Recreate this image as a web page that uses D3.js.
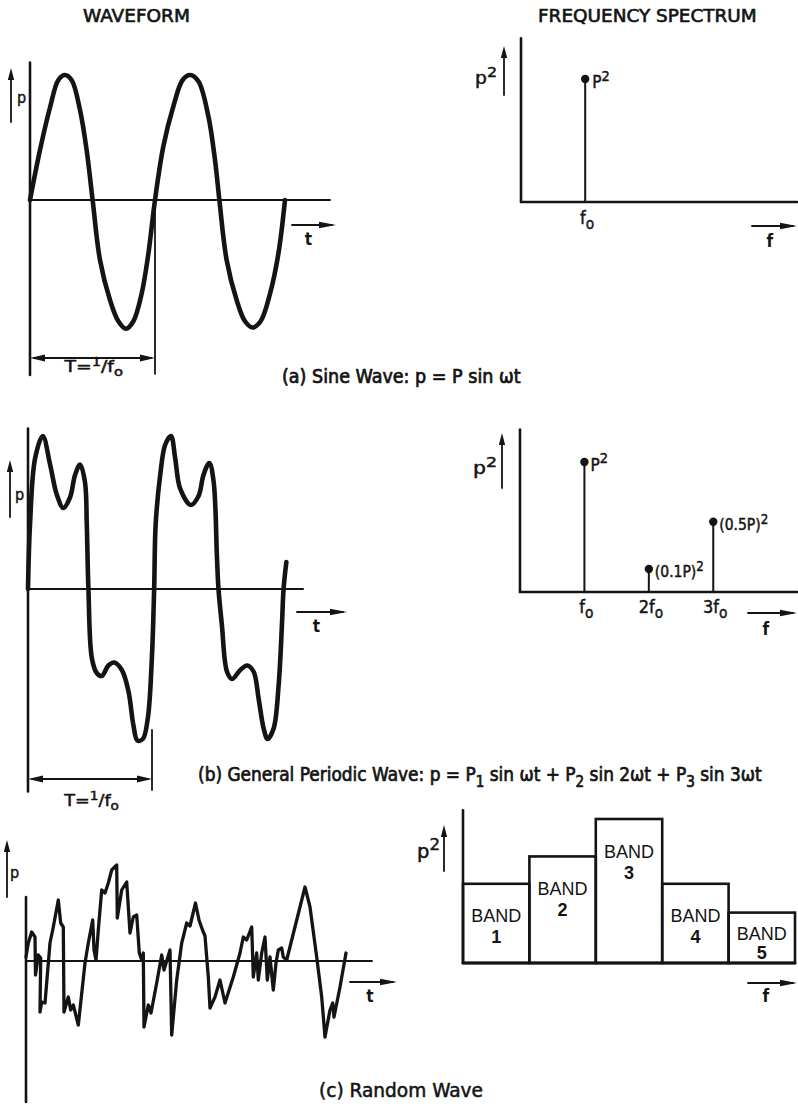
<!DOCTYPE html>
<html><head><meta charset="utf-8">
<script src="https://cdn.jsdelivr.net/npm/d3@7"></script>
<style>
html,body{margin:0;padding:0;background:#fff;}
svg{display:block;}
text{fill:#141414;white-space:pre;}
</style></head><body>
<svg id="c" width="798" height="1107"></svg>
<script>
// ---------------- DATA ----------------
// (a) sine wave: [t (periods), p (amplitude units)]
const sineWave = [[0,0],[0.08,0.40],[0.16,0.74],[0.227,0.96],[0.28,1.0],[0.333,0.96],[0.40,0.72],[0.453,0.40],[0.501,0],
  [0.56,-0.48],[0.64,-0.80],[0.707,-0.97],[0.768,-1.03],[0.827,-0.97],[0.893,-0.75],[0.947,-0.43],[1.0,0],
  [1.067,0.43],[1.147,0.75],[1.221,0.96],[1.28,1.0],[1.347,0.95],[1.427,0.67],[1.48,0.32],[1.515,0],
  [1.573,-0.48],[1.653,-0.80],[1.72,-0.97],[1.781,-1.02],[1.845,-0.97],[1.92,-0.75],[1.987,-0.43],[2.04,0]];
// (b) general periodic wave
const periodicWave = [[0,0],[0.016,0.43],[0.056,0.87],[0.117,1.02],[0.175,0.83],[0.228,0.63],[0.280,0.54],[0.333,0.61],
  [0.373,0.76],[0.413,0.83],[0.452,0.71],[0.466,0.43],[0.479,0.0],[0.506,-0.46],[0.545,-0.56],[0.585,-0.58],
  [0.637,-0.51],[0.683,-0.49],[0.744,-0.54],[0.796,-0.68],[0.836,-0.91],[0.867,-1.01],[0.910,-1.0],[0.950,-0.86],
  [0.982,-0.46],[1.0,0],[1.012,0.43],[1.048,0.76],[1.087,0.96],[1.133,1.02],[1.167,0.87],[1.206,0.67],[1.291,0.56],
  [1.352,0.62],[1.391,0.76],[1.437,0.84],[1.471,0.72],[1.498,0.21],[1.510,0.0],[1.537,-0.24],[1.577,-0.55],
  [1.617,-0.60],[1.683,-0.54],[1.736,-0.51],[1.788,-0.55],[1.828,-0.73],[1.868,-0.93],[1.899,-1.0],[1.947,-0.93],
  [1.987,-0.64],[2.013,-0.24],[2.026,0],[2.048,0.18]];
// (c) random wave: [t (ms), p]
const randomWave = [[0,0.04],[2.3,0.18],[5.7,0.29],[9,0.24],[9.5,-0.14],[12.3,0.06],[14.7,0.03],[14,-0.51],[15.7,-0.41],
  [19,-0.42],[24,0.18],[27.3,0.34],[32.3,0.61],[34.7,0.38],[37.3,0.34],[38,-0.51],[42.3,-0.36],[44.7,-0.49],[47.3,-0.44],
  [52.3,-0.64],[59,-0.02],[62.3,0.18],[66.7,0.41],[68,0.11],[70,0.01],[72.3,0.31],[75.7,0.71],[79,0.68],[82.3,0.78],
  [85.7,0.91],[90.7,0.96],[91.3,0.43],[95.7,0.71],[100.7,0.79],[104,0.28],[107.3,0.44],[110.7,0.46],[113.3,0.08],
  [115.7,0.01],[117.3,0.08],[118,-0.66],[122.3,-0.44],[125,-0.52],[130.7,-0.22],[135.7,0.06],[138,-0.09],[144,0.11],
  [145.7,-0.74],[150.7,-0.19],[155.7,0.18],[160.7,0.38],[164,0.35],[169.5,0.58],[173,0.41],[176.5,0.31],[179,0.25],
  [182.3,-0.16],[184,-0.47],[189,-0.36],[194,-0.19],[199,-0.42],[207.3,-0.16],[214,0.08],[217.3,0.24],[220.7,0.21],
  [225.7,0.34],[227.3,-0.16],[230.7,0.08],[232.3,-0.19],[235.7,0.08],[239,0.24],[241.3,-0.19],[244,0.04],[247.3,-0.29],
  [250,-0.02],[252.3,0.11],[255.7,0.13],[257.3,0.04],[260.7,0.01],[279,0.74],[284,0.54],[290.7,0.04],[295.7,-0.36],
  [299,-0.76],[304,-0.49],[306.7,-0.42],[308,-0.56],[314,-0.26],[320,0.08]];
// spectra
const specAFreq = [1];            // multiples of f0
const specAPower = [1.0];
const specBFreq = [1, 2, 3];
const specBPower = [1.0, 0.177, 0.54];
const specBLabels = [["P",{t:"2",sup:1}], ["(0.1P)",{t:"2",sup:1}], ["(0.5P)",{t:"2",sup:1}]];
const specBTicks = [["f",{t:"o",sub:1}], ["2f",{t:"o",sub:1}], ["3f",{t:"o",sub:1}]];
const bandNames = ["1", "2", "3", "4", "5"];
const bandPower = [0.55, 0.74, 1.0, 0.55, 0.35];

// ---------------- HELPERS ----------------
const svg = d3.select("#c");
const FONT = "'DejaVu Sans Condensed','DejaVu Sans',sans-serif";
const INK = "#141414";

function rich(x, y, parts, o) {
  o = Object.assign({size:14, font:FONT, weight:"normal", heavy:0.45, supScale:0.85}, o || {});
  const g = svg.append("g").attr("transform", `translate(${x},${y})`);
  const t = g.append("text").attr("font-family", o.font).attr("font-size", o.size).attr("font-weight", o.weight)
    .attr("stroke", INK).attr("stroke-width", o.heavy).attr("stroke-linejoin", "round");
  let cur = 0;
  parts.forEach(p => {
    const s = typeof p === "string" ? {t:p} : p;
    const shift = s.sup ? -o.size*0.42 : s.sub ? o.size*0.28 : 0;
    t.append("tspan").attr("dy", shift - cur)
      .attr("font-size", (s.sup || s.sub) ? o.size*o.supScale : null).text(s.t);
    cur = shift;
  });
  const bb = t.node().getBBox();
  if (o.width) {
    const k = o.width / bb.width;
    const x0 = o.center ? -o.width/2 : 0;
    t.attr("transform", `translate(${x0},0) scale(${k},1) translate(${-bb.x},0)`);
  } else if (o.center) {
    t.attr("transform", `translate(${-bb.x - bb.width/2},0)`);
  }
  return g;
}
function line(x1, y1, x2, y2, w) {
  svg.append("line").attr("x1", x1).attr("y1", y1).attr("x2", x2).attr("y2", y2)
    .attr("stroke", INK).attr("stroke-width", w || 2).attr("stroke-linecap", "round");
}
function tri(pts) {
  svg.append("path").attr("d", "M" + pts.map(p => p.join(",")).join("L") + "Z").attr("fill", INK);
}
function arrowUp(x, yb, yt) {
  line(x, yb, x, yt + 6, 1.8);
  tri([[x, yt], [x - 3.2, yt + 12], [x + 3.2, yt + 12]]);
}
function arrowRight(x1, x2, y) {
  line(x1, y, x2 - 4, y, 1.8);
  tri([[x2, y], [x2 - 17, y - 3.3], [x2 - 17, y + 3.3]]);
}
function dblArrow(x1, x2, y) {
  line(x1 + 4, y, x2 - 4, y, 1.8);
  tri([[x2, y], [x2 - 15, y - 3.6], [x2 - 15, y + 3.6]]);
  tri([[x1, y], [x1 + 15, y - 3.6], [x1 + 15, y + 3.6]]);
}
function curvePath(data, xs, ys, w, curve) {
  svg.append("path").datum(data)
    .attr("d", d3.line().x(d => xs(d[0])).y(d => ys(d[1])).curve(curve)(data))
    .attr("fill", "none").attr("stroke", INK).attr("stroke-width", w)
    .attr("stroke-linejoin", "round").attr("stroke-linecap", "round");
}

// ---------------- TITLES ----------------
rich(83, 22, ["WAVEFORM"], {size:18, width:107, heavy:0.6});
rich(538, 22, ["FREQUENCY SPECTRUM"], {size:18, width:219, heavy:0.6});

// ---------------- (a) SINE ----------------
const xA = d3.scaleLinear().domain([0, 2.4]).range([30, 330]);
const yA = d3.scaleLinear().domain([-1, 1]).range([325, 75]);
line(xA(0), yA(1.1), xA(0), yA(-1.4), 2.6);
line(xA(0), yA(0), xA(2.4), yA(0), 2);
curvePath(sineWave, xA, yA, 4.6, d3.curveCatmullRom.alpha(0.5));
line(xA(1), yA(0), xA(1), yA(-1.39), 1.8);
dblArrow(xA(0), xA(1), 358);
rich(63, 372, ["T=", {t:"1",sup:1}, "/f", {t:"o",sub:1}], {size:15, width:60, supScale:0.78});
arrowUp(11, 122, 68);
rich(17, 103, ["p"], {size:16});
arrowRight(292, 336, 225);
rich(308.5, 245, ["t"], {size:17, center:true, weight:"bold", heavy:0});
rich(282, 383, ["(a) Sine Wave: p = P sin ωt"], {size:19, width:239, heavy:0.7});

// spectrum (a)
const xSA = d3.scaleLinear().domain([0, 4.3]).range([521, 797]);
const ySA = d3.scaleLinear().domain([0, 1]).range([202, 79]);
line(xSA(0), ySA(1.33), xSA(0), ySA(0), 2.6);
line(xSA(0), ySA(0), xSA(4.3), ySA(0), 2.6);
specAFreq.forEach((f, i) => {
  line(xSA(f), ySA(0), xSA(f), ySA(specAPower[i]), 2);
  svg.append("circle").attr("cx", xSA(f)).attr("cy", ySA(specAPower[i])).attr("r", 4.2).attr("fill", INK);
  rich(xSA(f) + 7, ySA(specAPower[i]) + 9, ["P", {t:"2",sup:1}], {size:17});
  rich(xSA(f) + 2, 224, ["f", {t:"o",sub:1}], {size:18, center:true});
});
arrowUp(504, 95, 46);
rich(475, 84, ["p", {t:"2",sup:1}], {size:17, width:22});
arrowRight(752, 797, 226);
rich(770, 247, ["f"], {size:17, center:true, weight:"bold", heavy:0});

// ---------------- (b) PERIODIC ----------------
const xB = d3.scaleLinear().domain([0, 2.18]).range([28, 303]);
const yB = d3.scaleLinear().domain([-1, 1]).range([739, 439]);
line(xB(0), yB(1.07), xB(0), yB(-1.35), 2.6);
line(xB(0), yB(0), xB(2.18), yB(0), 2);
curvePath(periodicWave, xB, yB, 4.6, d3.curveCatmullRom.alpha(0.5));
line(152, 730, 152, 790, 1.8);
dblArrow(xB(0), 152, 779);
rich(63, 806, ["T=", {t:"1",sup:1}, "/f", {t:"o",sub:1}], {size:15, width:56, supScale:0.78});
arrowUp(10, 517, 460);
rich(15, 500, ["p"], {size:16});
arrowRight(297, 347, 612);
rich(316.5, 632, ["t"], {size:17, center:true, weight:"bold", heavy:0});
rich(198, 781, ["(b) General Periodic Wave: p = P", {t:"1",sub:1}, " sin ωt + P", {t:"2",sub:1},
  " sin 2ωt + P", {t:"3",sub:1}, " sin 3ωt"], {size:20, width:564, heavy:0.7, supScale:0.8});

// spectrum (b)
const xSB = d3.scaleLinear().domain([0, 4.3]).range([520, 797]);
const ySB = d3.scaleLinear().domain([0, 1]).range([592, 462]);
line(xSB(0), ySB(1.25), xSB(0), ySB(0), 2.6);
line(xSB(0), ySB(0), xSB(4.3), ySB(0), 2.6);
specBFreq.forEach((f, i) => {
  const x = xSB(f), y = ySB(specBPower[i]);
  line(x, ySB(0), x, y, 2);
  svg.append("circle").attr("cx", x).attr("cy", y).attr("r", 4.2).attr("fill", INK);
  rich(x + 6, y + 8.5, specBLabels[i], {size: i === 0 ? 17 : 15.5});
  rich(x + 2, 613, specBTicks[i], {size:18, center:true});
});
arrowUp(502, 488, 433);
rich(473, 474, ["p", {t:"2",sup:1}], {size:17, width:24});
arrowRight(748, 797, 613);
rich(766, 635, ["f"], {size:17, center:true, weight:"bold", heavy:0});

// ---------------- (c) RANDOM ----------------
const xC = d3.scaleLinear().domain([0, 346]).range([26, 372]);
const yC = d3.scaleLinear().domain([-1, 1]).range([1061, 861]);
line(xC(0), yC(0.64), xC(0), yC(-1.41), 2.6);
line(xC(0), yC(0), xC(346), yC(0), 2);
curvePath(randomWave, xC, yC, 3.3, d3.curveLinear);
arrowUp(7, 897, 840);
rich(10, 878, ["p"], {size:16});
arrowRight(350, 397, 982);
rich(370, 1002, ["t"], {size:17, center:true, weight:"bold", heavy:0});
rich(319, 1097, ["(c) Random Wave"], {size:19, width:164, heavy:0.5});

// band spectrum
const xBand = d3.scaleBand().domain(bandNames).range([463, 795]).paddingInner(0);
const yBand = d3.scaleLinear().domain([0, 1]).range([963, 819]);
line(xBand.range()[0], yBand(1.06), xBand.range()[0], yBand(0), 2.6);
svg.append("g").selectAll("rect").data(bandNames).join("rect")
  .attr("x", d => xBand(d)).attr("width", xBand.bandwidth())
  .attr("y", (d, i) => yBand(bandPower[i])).attr("height", (d, i) => yBand(0) - yBand(bandPower[i]))
  .attr("fill", "none").attr("stroke", INK).attr("stroke-width", 2.6);
line(xBand.range()[0], yBand(0), xBand.range()[1], yBand(0), 2.8);
bandNames.forEach((b, i) => {
  const top = yBand(bandPower[i]);
  const off = Math.min(32, (yBand(0) - top) * 0.42);
  const cx = xBand(b) + xBand.bandwidth() / 2;
  const base = top + off + 6.5;
  svg.append("text").attr("x", cx).attr("y", base).attr("text-anchor", "middle")
    .attr("font-family", "'Liberation Sans',Arial,sans-serif").attr("font-size", 18).text("BAND");
  svg.append("text").attr("x", cx).attr("y", base + Math.min(21, off * 0.9)).attr("text-anchor", "middle")
    .attr("font-family", "'Liberation Sans',Arial,sans-serif").attr("font-size", 18).attr("font-weight", "bold").text(b);
});
arrowUp(444, 871, 825);
rich(417, 858, ["p", {t:"2",sup:1}], {size:19, width:23});
arrowRight(748, 797, 983);
rich(766, 1002, ["f"], {size:17, center:true, weight:"bold", heavy:0});
</script>
</body></html>
